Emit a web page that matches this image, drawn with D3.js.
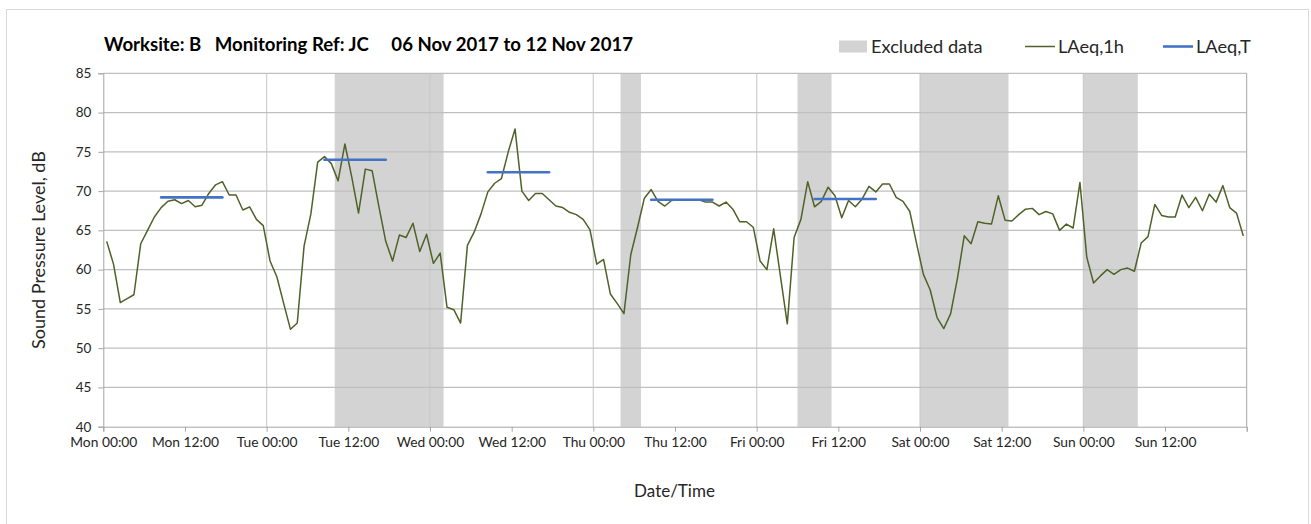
<!DOCTYPE html>
<html>
<head>
<meta charset="utf-8">
<script src="https://cdn.jsdelivr.net/npm/d3@7"></script>
<style>
  html, body { margin: 0; padding: 0; background: #ffffff; }
  svg text { font-family: Lato, "Open Sans", "DejaVu Sans", sans-serif; }
</style>
</head>
<body>
<svg id="chart" width="1311" height="524"></svg>
<script>
// ---- data (hour index from Mon 06 Nov 2017 00:00) ----
const tickHours = [0, 12, 24, 36, 48, 60, 72, 84, 96, 108, 120, 132, 144, 156];
const tickLabels = ["Mon 00:00", "Mon 12:00", "Tue 00:00", "Tue 12:00", "Wed 00:00", "Wed 12:00",
  "Thu 00:00", "Thu 12:00", "Fri 00:00", "Fri 12:00", "Sat 00:00", "Sat 12:00", "Sun 00:00", "Sun 12:00"];
const yTicks = [40, 45, 50, 55, 60, 65, 70, 75, 80, 85];

// LAeq,1h hourly values (168 hours)
const laeq1h = [
  63.6, 60.7, 55.8, 56.3, 56.8, 63.3, 65.0, 66.7, 67.9, 68.7, 68.9, 68.4, 68.8, 68.0, 68.2, 69.7, 70.8, 71.2, 69.5, 69.5, 67.6, 68.0, 66.4, 65.6, 61.1, 59.1, 55.7, 52.4,
  53.2, 63.0, 67.1, 73.7, 74.4, 73.5, 71.3, 76.0, 71.8, 67.2, 72.8, 72.6, 68.0, 63.6, 61.1, 64.4, 64.1, 65.9, 62.3, 64.5, 60.8, 62.1, 55.2, 54.9, 53.2, 63.1, 64.8, 67.1,
  69.9, 71.0, 71.6, 75.0, 77.9, 70.0, 68.8, 69.7, 69.7, 68.9, 68.1, 67.9, 67.3, 67.0, 66.4, 65.1, 60.7, 61.3, 56.9, 55.7, 54.4, 61.9, 65.4, 69.1, 70.2, 68.7, 68.1, 68.8,
  68.9, 68.9, 68.9, 68.9, 68.6, 68.6, 68.1, 68.6, 67.7, 66.1, 66.1, 65.4, 61.1, 60.0, 65.2, 59.1, 53.1, 64.1, 66.4, 71.2, 68.0, 68.7, 70.5, 69.4, 66.6, 68.8, 68.0, 69.0,
  70.6, 69.9, 70.9, 70.9, 69.2, 68.7, 67.4, 63.3, 59.4, 57.4, 53.9, 52.5, 54.4, 58.9, 64.3, 63.3, 66.1, 65.9, 65.8, 69.4, 66.3, 66.2, 67.0, 67.7, 67.8, 67.0, 67.4, 67.1,
  65.0, 65.8, 65.3, 71.1, 61.6, 58.3, 59.2, 60.0, 59.4, 60.0, 60.2, 59.8, 63.4, 64.2, 68.3, 66.9, 66.7, 66.7, 69.5, 67.9, 69.2, 67.5, 69.6, 68.6, 70.7, 67.9, 67.2, 64.3
];

// LAeq,T daytime periods (first and last hour index) and values
const laeqTStart = [8, 32, 56, 80, 104];
const laeqTEnd = [17, 41, 65, 89, 113];
const laeqTValue = [69.2, 74.0, 72.4, 68.9, 69.0];

// Excluded data periods (hours)
const exclStart = [34, 76, 102, 120, 144];
const exclEnd = [50, 79, 107, 133, 152];

const titleText = "Worksite: B   Monitoring Ref: JC     06 Nov 2017 to 12 Nov 2017";

// ---- drawing ----
(function () {
const svg = d3.select("#chart");
const pL = 103.3, pR = 1246.7, pT = 73.3, pB = 426.7;
const x = d3.scaleLinear().domain([0, 168]).range([pL, pR]);
const y = d3.scaleLinear().domain([40, 85]).range([pB, pT]);
const font = "Lato, 'Open Sans', sans-serif";

// outer chart border
svg.append("rect").attr("x", 6.5).attr("y", 9.5).attr("width", 1302).attr("height", 520)
  .attr("fill", "none").attr("stroke", "#d9d9d9").attr("stroke-width", 1);

// excluded areas
svg.append("g").selectAll("rect").data(exclStart.map((s, i) => [s, exclEnd[i]])).join("rect")
  .attr("x", d => x(d[0])).attr("width", d => x(d[1]) - x(d[0]))
  .attr("y", pT).attr("height", pB - pT)
  .attr("fill", "#d3d3d3");

// vertical day gridlines
svg.append("g").selectAll("line").data(d3.range(1, 7).map(d => d * 24)).join("line")
  .attr("x1", d => x(d)).attr("x2", d => x(d)).attr("y1", pT).attr("y2", pB)
  .attr("stroke", "#c8c8c8").attr("stroke-width", 1.3).attr("opacity", 0.8);

// horizontal gridlines
svg.append("g").selectAll("line").data(yTicks.filter(v => v > 40)).join("line")
  .attr("x1", pL).attr("x2", pR).attr("y1", d => y(d)).attr("y2", d => y(d))
  .attr("stroke", "#bfbfbf").attr("stroke-width", 1.2);

// y axis
const yAxis = d3.axisLeft(y).tickValues(yTicks).tickSize(5).tickPadding(7).tickFormat(d3.format("d"));
const gy = svg.append("g").attr("transform", `translate(${pL},0)`).call(yAxis);
gy.select(".domain").attr("stroke", "#a6a6a6");
gy.selectAll(".tick line").attr("stroke", "#a6a6a6");
gy.selectAll(".tick text").attr("font-size", 13.5).attr("fill", "#262626").style("font-family", font);

// x axis
const xAxis = d3.axisBottom(x).tickValues(tickHours.concat([168])).tickSize(5).tickPadding(6)
  .tickFormat((d, i) => i < tickLabels.length ? tickLabels[i] : "");
const gx = svg.append("g").attr("transform", `translate(0,${pB})`).call(xAxis);
gx.select(".domain").attr("stroke", "#a6a6a6");
gx.selectAll(".tick line").attr("stroke", "#a6a6a6");
gx.selectAll(".tick text").attr("font-size", 13.8).attr("fill", "#262626").style("font-family", font);

// right border of plot
svg.append("line").attr("x1", pR).attr("x2", pR).attr("y1", pT).attr("y2", pB)
  .attr("stroke", "#a6a6a6").attr("stroke-width", 1);

// LAeq,1h line
const line = d3.line().x((d, i) => x(i + 0.5)).y(d => y(d));
svg.append("path").datum(laeq1h).attr("d", line)
  .attr("fill", "none").attr("stroke", "#4f6228").attr("stroke-width", 1.5)
  .attr("stroke-linejoin", "round");

// LAeq,T lines
svg.append("g").selectAll("line").data(laeqTStart.map((s, i) => ({ s, e: laeqTEnd[i], v: laeqTValue[i] }))).join("line")
  .attr("x1", d => x(d.s + 0.5)).attr("x2", d => x(d.e + 0.5))
  .attr("y1", d => y(d.v)).attr("y2", d => y(d.v))
  .attr("stroke", "#4472c4").attr("stroke-width", 2.6).attr("stroke-linecap", "round");

// title
svg.append("text").attr("x", 104).attr("y", 51).attr("font-size", 18.6).attr("font-weight", "bold")
  .attr("fill", "#000").style("white-space", "pre").attr("xml:space", "preserve").text(titleText);

// axis titles
svg.append("text").attr("x", (pL + pR) / 2 - 0.5).attr("y", 497).attr("text-anchor", "middle")
  .attr("font-size", 17).attr("fill", "#262626").text("Date/Time");
svg.append("text").attr("transform", "translate(45,250) rotate(-90)").attr("text-anchor", "middle")
  .attr("font-size", 18).attr("fill", "#262626").text("Sound Pressure Level, dB");

// legend
const lg = svg.append("g");
lg.append("rect").attr("x", 839).attr("y", 40.5).attr("width", 28).attr("height", 12).attr("fill", "#d3d3d3");
lg.append("text").attr("x", 871).attr("y", 53).attr("font-size", 18.2).attr("fill", "#262626").text("Excluded data");
lg.append("line").attr("x1", 1025).attr("x2", 1055).attr("y1", 46.5).attr("y2", 46.5)
  .attr("stroke", "#4f6228").attr("stroke-width", 1.5);
lg.append("text").attr("x", 1058).attr("y", 53).attr("font-size", 18.2).attr("fill", "#262626").text("LAeq,1h");
lg.append("line").attr("x1", 1163).attr("x2", 1193).attr("y1", 46.5).attr("y2", 46.5)
  .attr("stroke", "#4472c4").attr("stroke-width", 2.6);
lg.append("text").attr("x", 1196).attr("y", 53).attr("font-size", 18.2).attr("fill", "#262626").text("LAeq,T");
})();
</script>
</body>
</html>
